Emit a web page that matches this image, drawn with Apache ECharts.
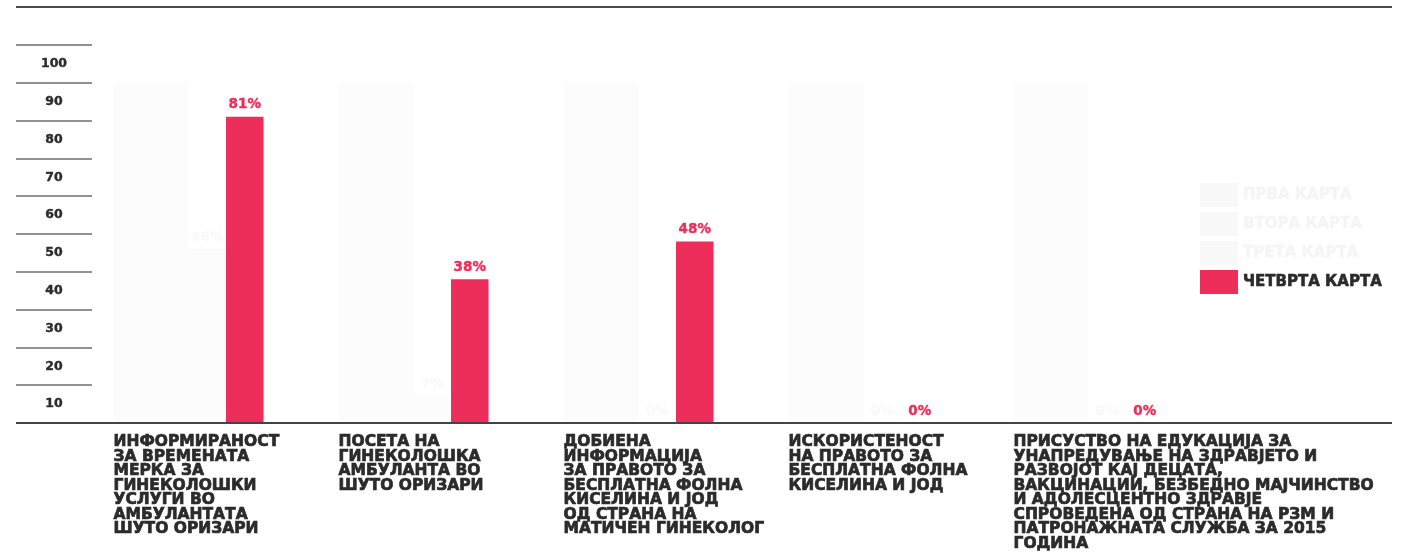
<!DOCTYPE html>
<html>
<head>
<meta charset="utf-8">
<script src="https://cdn.jsdelivr.net/npm/echarts@6/dist/echarts.min.js"></script>
<style>
    html, body { margin: 0; padding: 0; background: #fff; }
    #chart { width: 1409px; height: 556px; }
</style>
</head>
<body>
<div id="chart"></div>
<script>
/* податоци за графиконот */
var categories = [
    'ИНФОРМИРАНОСТ\nЗА ВРЕМЕНАТА\nМЕРКА ЗА\nГИНЕКОЛОШКИ\nУСЛУГИ ВО\nАМБУЛАНТАТА\nШУТО ОРИЗАРИ',
    'ПОСЕТА НА\nГИНЕКОЛОШКА\nАМБУЛАНТА ВО\nШУТО ОРИЗАРИ',
    'ДОБИЕНА\nИНФОРМАЦИЈА\nЗА ПРАВОТО ЗА\nБЕСПЛАТНА ФОЛНА\nКИСЕЛИНА И ЈОД\nОД СТРАНА НА\nМАТИЧЕН ГИНЕКОЛОГ',
    'ИСКОРИСТЕНОСТ\nНА ПРАВОТО ЗА\nБЕСПЛАТНА ФОЛНА\nКИСЕЛИНА И ЈОД',
    'ПРИСУСТВО НА ЕДУКАЦИЈА ЗА\nУНАПРЕДУВАЊЕ НА ЗДРАВЈЕТО И\nРАЗВОЈОТ КАЈ ДЕЦАТА,\nВАКЦИНАЦИИ, БЕЗБЕДНО МАЈЧИНСТВО\nИ АДОЛЕСЦЕНТНО ЗДРАВЈЕ\nСПРОВЕДЕНА ОД СТРАНА НА РЗМ И\nПАТРОНАЖНАТА СЛУЖБА ЗА 2015\nГОДИНА'
];
var seriesNames = ['ПРВА КАРТА', 'ВТОРА КАРТА', 'ТРЕТА КАРТА', 'ЧЕТВРТА КАРТА'];
var prvaKarta = [90, 90, 90, 90, 90];
var vtoraKarta = [90, 90, 90, 90, 90];
var tretaKarta = [46, 7, 0, 0, 0];
var chetvrtaKarta = [81, 38, 48, 0, 0];
var yBands = ['10', '20', '30', '40', '50', '60', '70', '80', '90', '100'];

var FONT = '"DejaVu Sans", sans-serif';
var RED = '#ee2e5a';
var DARK = '#2b2b2b';
var GHOST = '#fcfcfc';
var GHOST_TEXT = '#f9f9f9';

var chart = echarts.init(document.getElementById('chart'));

function barSeries(name, data, color, labelColor, showLabel) {
    return {
        name: name,
        type: 'bar',
        xAxisIndex: 0,
        yAxisIndex: 0,
        barGap: '0%',
        barCategoryGap: '33.3%',
        data: data,
        itemStyle: { color: color },
        label: {
            show: showLabel,
            position: 'top',
            distance: 5,
            formatter: '{c}%',
            color: labelColor,
            textBorderColor: labelColor,
            textBorderWidth: 0.4,
            fontFamily: FONT,
            fontWeight: 'bold',
            fontSize: 13.5
        },
        emphasis: { disabled: true }
    };
}

var option = {
    backgroundColor: '#fff',
    animation: false,
    grid: [
        { left: 76, width: 1125, top: 45, bottom: 133 },
        { left: 92, right: 17, top: 45, bottom: 133 }
    ],
    legend: {
        orient: 'vertical',
        left: 1195,
        top: 178,
        itemWidth: 38,
        itemHeight: 24,
        itemGap: 5,
        selectedMode: false,
        icon: 'rect',
        textStyle: {
            fontFamily: FONT,
            fontWeight: 'bold',
            fontSize: 15,
            color: DARK,
            textBorderColor: DARK,
            textBorderWidth: 0.6
        },
        data: [
            { name: seriesNames[0], itemStyle: { color: '#f8f8f8' }, textStyle: { color: '#f5f5f5', textBorderColor: '#f5f5f5' } },
            { name: seriesNames[1], itemStyle: { color: '#f8f8f8' }, textStyle: { color: '#f5f5f5', textBorderColor: '#f5f5f5' } },
            { name: seriesNames[2], itemStyle: { color: '#f8f8f8' }, textStyle: { color: '#f5f5f5', textBorderColor: '#f5f5f5' } },
            { name: seriesNames[3] }
        ]
    },
    xAxis: [
        {
            type: 'category',
            gridIndex: 0,
            data: categories,
            axisLine: { show: false },
            axisTick: { show: false },
            axisLabel: {
                interval: 0,
                margin: 12,
                width: 150,
                align: 'center',
                formatter: function (value) {
                    return value.split('\n').map(function (l) {
                        return '{a|' + l + '}';
                    }).join('\n');
                },
                rich: {
                    a: {
                        align: 'left',
                        fontFamily: FONT,
                        fontWeight: 'bold',
                        fontSize: 15.5,
                        lineHeight: 14.5,
                        color: DARK,
                        textBorderColor: DARK,
                        textBorderWidth: 0.7
                    }
                }
            }
        },
        {
            type: 'value',
            gridIndex: 1,
            show: false
        }
    ],
    yAxis: [
        {
            type: 'value',
            gridIndex: 0,
            min: 0,
            max: 100,
            show: false
        },
        {
            type: 'category',
            gridIndex: 1,
            data: yBands,
            boundaryGap: true,
            axisLine: { show: false },
            axisTick: {
                show: true,
                length: 76,
                alignWithLabel: false,
                lineStyle: { color: '#6e6e6e', width: 1.5 }
            },
            axisLabel: {
                margin: 38,
                align: 'center',
                fontFamily: FONT,
                fontWeight: 'bold',
                fontSize: 12.5,
                color: DARK,
                textBorderColor: DARK,
                textBorderWidth: 0.4
            },
            splitLine: { show: false }
        }
    ],
    graphic: [
        {
            type: 'line',
            shape: { x1: 16, y1: 7, x2: 1392, y2: 7 },
            style: { stroke: '#4a4a4a', lineWidth: 2 }
        },
        {
            type: 'line',
            z: 10,
            shape: { x1: 16, y1: 423, x2: 1392, y2: 423 },
            style: { stroke: '#444', lineWidth: 2 }
        }
    ],
    series: [
        barSeries(seriesNames[0], prvaKarta, GHOST, GHOST_TEXT, false),
        barSeries(seriesNames[1], vtoraKarta, GHOST, GHOST_TEXT, false),
        barSeries(seriesNames[2], tretaKarta, GHOST, GHOST_TEXT, true),
        barSeries(seriesNames[3], chetvrtaKarta, RED, RED, true)
    ]
};

chart.setOption(option);
</script>
</body>
</html>
